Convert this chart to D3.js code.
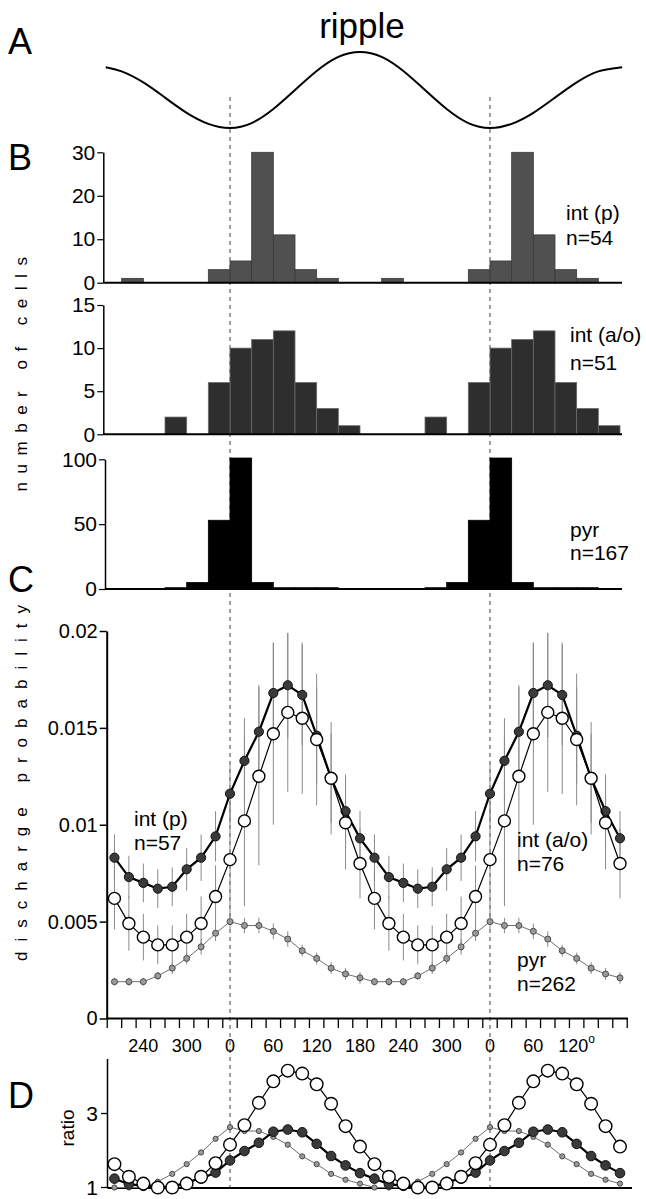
<!DOCTYPE html>
<html><head><meta charset="utf-8">
<script src="https://cdn.jsdelivr.net/npm/d3@7"></script>
<style>
html,body{margin:0;padding:0;background:#fff;}
svg text{font-family:"Liberation Sans",Arial,Helvetica,sans-serif;fill:#000;}
</style></head>
<body><svg id="chart" width="646" height="1199"></svg>
<script>
// ---------- DATA ----------
// Panel A: ripple trace (phase in degrees, relative amplitude)
const ripplePhase = [-172,-150,-120,-90,-60,-30,0,30,60,90,120,150,180,210,240,270,300,330,360,390,420,450,480,510,543];
const rippleValue = [0.60,0.49,0.20,-0.20,-0.60,-0.89,-1.00,-0.87,-0.50,0.00,0.50,0.87,1.00,0.87,0.50,0.00,-0.50,-0.87,-1.00,-0.89,-0.60,-0.20,0.20,0.49,0.60];

// Panel B: histogram bins (30 deg, start phase) and counts
const histBins = [0,30,60,90,120,150,180,210,240,270,300,330];
const histIntP  = [5,30,11,3,1,0,0,1,0,0,0,3];     // int (p) n=54
const histIntAO = [10,11,12,6,3,1,0,0,0,2,0,6];    // int (a/o) n=51
const histPyr   = [101,5,1,1,1,0,0,0,0,1,5,53];    // pyr n=167

// Panel C: discharge probability per 20 deg phase bin
const phaseBins = [0,20,40,60,80,100,120,140,160,180,200,220,240,260,280,300,320,340];
const intPMean  = [0.0116,0.0133,0.0148,0.0168,0.0172,0.0167,0.0146,0.0124,0.0107,0.0093,0.0083,0.0073,0.0070,0.0067,0.0068,0.0077,0.0083,0.0094];
const intPErr   = [0.0015,0.0022,0.0024,0.0026,0.0027,0.0026,0.0025,0.0023,0.0019,0.0014,0.0012,0.0011,0.0010,0.0010,0.0010,0.0011,0.0012,0.0013];
const intAOMean = [0.0082,0.0102,0.0125,0.0147,0.0158,0.0155,0.0144,0.0124,0.0101,0.0080,0.0062,0.0049,0.0042,0.0038,0.0038,0.0042,0.0049,0.0063];
const intAOErr  = [0.0030,0.0044,0.0046,0.0047,0.0041,0.0039,0.0034,0.0029,0.0024,0.0018,0.0016,0.0014,0.0012,0.0010,0.0010,0.0012,0.0014,0.0016];
const pyrMean   = [0.0050,0.0048,0.0048,0.0045,0.0041,0.0035,0.0031,0.0026,0.0023,0.0021,0.0019,0.0019,0.0019,0.0022,0.0026,0.0031,0.0037,0.0044];
const pyrErr    = [0.0004,0.0004,0.0004,0.0004,0.0004,0.0003,0.0003,0.0003,0.0003,0.0003,0.0002,0.0002,0.0002,0.0002,0.0003,0.0003,0.0004,0.0004];

// axis tick labels
const cTickValues = [0,0.005,0.01,0.015,0.02];
const xLabelPhase = [-120,-60,0,60,120,180,240,300,360,420,480];
const xLabelText  = ["240","300","0","60","120","180","240","300","0","60","120"];
const dTickValues = [1,3];

// ---------- LAYOUT ----------
const svg = d3.select("#chart");
const FONT = '"Liberation Sans",Arial,Helvetica,sans-serif';
const x = d3.scaleLinear().domain([0,360]).range([230,490]);

// dashed zero-phase lines
svg.selectAll("line.zero").data([0,360]).join("line")
  .attr("x1",d=>x(d)).attr("x2",d=>x(d)).attr("y1",97).attr("y2",1188)
  .attr("stroke","#444").attr("stroke-width",1).attr("stroke-dasharray","4,4");

// panel letters
const letters = [["A",54],["B",170],["C",592],["D",1108]];
svg.selectAll("text.letter").data(letters).join("text")
  .attr("x",8).attr("y",d=>d[1]).attr("font-size",36).text(d=>d[0]);

// ---------- Panel A ----------
svg.append("text").attr("x",362).attr("y",38).attr("text-anchor","middle")
  .attr("font-size",35).style("font-stretch","condensed").text("ripple");
const yA = d3.scaleLinear().domain([-1,1]).range([128,52]);
const rip = ripplePhase.map((t,i)=>({t, v:rippleValue[i]}));
svg.append("path").datum(rip)
  .attr("d", d3.line().x(d=>x(d.t)).y(d=>yA(d.v)).curve(d3.curveNatural))
  .attr("fill","none").attr("stroke","#000").attr("stroke-width",2);

// ---------- Panel B ----------
function histogram(counts, maxY, y0, yTop, axisX, ticks, fill, stroke){
  const y = d3.scaleLinear().domain([0,maxY]).range([y0,yTop]);
  const bars = [];
  histBins.forEach((b,i)=>{
    if(counts[i]<=0) return;
    [b-360,b,b+360].forEach(t=>{ if(t>=-180 && t<540) bars.push({t,c:counts[i]}); });
  });
  const g = svg.append("g");
  g.selectAll("rect").data(bars).join("rect")
    .attr("x",d=>x(d.t)).attr("width",d=>x(d.t+30)-x(d.t))
    .attr("y",d=>y(d.c)).attr("height",d=>y0-y(d.c))
    .attr("fill",fill).attr("stroke",stroke).attr("stroke-width",0.8);
  g.append("line").attr("x1",axisX).attr("x2",622).attr("y1",y0).attr("y2",y0)
    .attr("stroke","#000").attr("stroke-width",2);
  const ax = svg.append("g").attr("transform",`translate(${axisX},0)`)
    .call(d3.axisLeft(y).tickValues(ticks).tickSize(6).tickSizeOuter(0).tickPadding(2));
  ax.select(".domain").attr("stroke-width",1.5);
  ax.selectAll(".tick line").attr("stroke-width",1.2);
  ax.selectAll("text").attr("font-size",21).attr("font-family",FONT).attr("fill","#000");
}
histogram(histIntP, 30, 282.7, 152.3, 103.3, [0,10,20,30], "#505050", "#3a3a3a");
histogram(histIntAO, 15, 434.3, 305, 103.3, [0,5,10,15], "#2e2e2e", "#6a6a6a");
histogram(histPyr, 100, 589, 459.3, 105, [0,50,100], "#000", "#000");

const bLabels = [["int (p)",566,220],["n=54",566,245],["int (a/o)",570,342],["n=51",570,370],["pyr",570,537],["n=167",570,560]];
svg.selectAll("text.bl").data(bLabels).join("text").attr("class","bl")
  .attr("x",d=>d[1]).attr("y",d=>d[2]).attr("font-size",21).text(d=>d[0]);

svg.append("text").attr("transform","translate(27,370) rotate(-90)")
  .attr("text-anchor","middle").attr("font-size",17).attr("letter-spacing","8.5px")
  .text("number of cells");

// ---------- Panel C ----------
const yC = d3.scaleLinear().domain([0,0.02]).range([1018.5,631]);
function expand(mean, err){
  const out=[];
  phaseBins.forEach((p,i)=>{
    [p-360,p,p+360].forEach(t=>{ if(t>=-160 && t<=540) out.push({t, v:mean[i], e:err?err[i]:0}); });
  });
  return out.sort((a,b)=>a.t-b.t);
}
const sP = expand(intPMean,intPErr), sA = expand(intAOMean,intAOErr), sY = expand(pyrMean,pyrErr);

const axC = svg.append("g").attr("transform","translate(106.7,0)")
  .call(d3.axisLeft(yC).tickValues(cTickValues).tickFormat(d=>d===0?"0":String(d)).tickSize(7).tickSizeOuter(0).tickPadding(2));
axC.select(".domain").attr("stroke-width",2);
axC.selectAll(".tick line").attr("stroke-width",1.5);
axC.selectAll("text").attr("font-size",20).attr("font-family",FONT).attr("fill","#000");

// x axis of C
svg.append("line").attr("x1",106.7).attr("x2",628).attr("y1",1018.5).attr("y2",1018.5)
  .attr("stroke","#000").attr("stroke-width",2);
const cTicks = d3.range(-170,551,20);
svg.selectAll("line.ct").data(cTicks).join("line").attr("class","ct")
  .attr("x1",d=>x(d)).attr("x2",d=>x(d)).attr("y1",1018.5).attr("y2",1028)
  .attr("stroke","#000").attr("stroke-width",1.3);
const xl = svg.selectAll("text.xl").data(xLabelPhase).join("text").attr("class","xl")
  .attr("x",d=>x(d)).attr("y",1052).attr("text-anchor","middle").attr("font-size",18)
  .style("font-stretch","condensed")
  .text((d,i)=>xLabelText[i]);
xl.filter((d,i)=>i===xLabelText.length-1).append("tspan")
  .attr("dy",-9).attr("font-size",12).text("o");

// error bars
function errBars(s){
  svg.append("g").selectAll("line").data(s).join("line")
    .attr("x1",d=>x(d.t)).attr("x2",d=>x(d.t))
    .attr("y1",d=>yC(d.v+d.e)).attr("y2",d=>yC(d.v-d.e))
    .attr("stroke","#8a8a8a").attr("stroke-width",1);
}
errBars(sA); errBars(sP); errBars(sY);

function series(s, yS, lineW, lineCol, r, fill, stroke, sw){
  svg.append("path").datum(s).attr("d",d3.line().x(d=>x(d.t)).y(d=>yS(d.v)))
    .attr("fill","none").attr("stroke",lineCol).attr("stroke-width",lineW);
  svg.append("g").selectAll("circle").data(s).join("circle")
    .attr("cx",d=>x(d.t)).attr("cy",d=>yS(d.v)).attr("r",r)
    .attr("fill",fill).attr("stroke",stroke).attr("stroke-width",sw);
}
series(sY, yC, 1, "#6e6e6e", 3, "#9a9a9a", "#4a4a4a", 1);
series(sP, yC, 2.2, "#000", 4.6, "#3a3a3a", "#111", 1);
series(sA, yC, 1.2, "#000", 6, "#fff", "#000", 1.4);

const cLabels = [["int (p)",134,826],["n=57",134,850],["int (a/o)",517,847],["n=76",517,871],["pyr",517,967],["n=262",517,991]];
svg.selectAll("text.cl").data(cLabels).join("text").attr("class","cl")
  .attr("x",d=>d[1]).attr("y",d=>d[2]).attr("font-size",21).text(d=>d[0]);

svg.append("text").attr("transform","translate(27,778) rotate(-90)")
  .attr("text-anchor","middle").attr("font-size",17).attr("letter-spacing","10px")
  .text("discharge probability");

// ---------- Panel D ----------
const yD = d3.scaleLinear().domain([1,3]).range([1187.5,1113.5]);
function ratio(mean){ const m = d3.min(mean); return mean.map(v=>v/m); }
const rP = expand(ratio(intPMean)), rA = expand(ratio(intAOMean)), rY = expand(ratio(pyrMean));
svg.append("line").attr("x1",107.5).attr("x2",107.5).attr("y1",1059).attr("y2",1188)
  .attr("stroke","#000").attr("stroke-width",1.5);
svg.append("line").attr("x1",107.5).attr("x2",632).attr("y1",1188).attr("y2",1188)
  .attr("stroke","#000").attr("stroke-width",2);
svg.selectAll("line.dt").data(dTickValues).join("line").attr("class","dt")
  .attr("x1",101).attr("x2",107.5).attr("y1",d=>yD(d)).attr("y2",d=>yD(d))
  .attr("stroke","#000").attr("stroke-width",1.3);
svg.selectAll("text.dtl").data(dTickValues).join("text").attr("class","dtl")
  .attr("x",98).attr("y",d=>yD(d)+7).attr("text-anchor","end").attr("font-size",21).text(d=>d);
svg.append("text").attr("transform","translate(74,1128) rotate(-90)")
  .attr("text-anchor","middle").attr("font-size",19).text("ratio");

series(rY, yD, 1, "#6e6e6e", 2.6, "#9a9a9a", "#4a4a4a", 1);
series(rP, yD, 2.2, "#000", 4.8, "#3a3a3a", "#111", 1);
series(rA, yD, 1.2, "#000", 6.3, "#fff", "#000", 1.4);
</script></body></html>
